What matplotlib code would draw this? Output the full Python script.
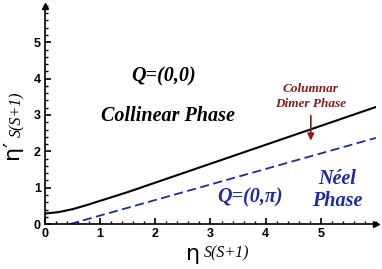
import matplotlib
matplotlib.use("Agg")
import matplotlib.pyplot as plt
from matplotlib.ticker import MultipleLocator

# ── Data ──────────────────────────────────────────────────────────────────
# upper boundary (collinear / columnar dimer), solid black
x_upper = [0.0, 0.25, 0.5, 0.75, 1.0, 1.5, 2.0, 3.0, 4.0, 5.0, 6.0]
y_upper = [0.29, 0.33, 0.41, 0.52, 0.64, 0.88, 1.14, 1.66, 2.18, 2.70, 3.22]
# lower boundary (columnar dimer / Neel), dashed blue
x_lower = [0.45, 6.0]
y_lower = [0.0, 2.37]

INK = "black"
BLUE = "#1c2aa6"
RED = "#8b1a1a"
SERIF = "Liberation Serif"

fig = plt.figure(figsize=(3.82, 2.69), dpi=100)
ax = fig.add_axes([0.118, 0.167, 0.866, 0.811])

ax.plot(x_upper, y_upper, color=INK, lw=1.5)
ax.plot(x_lower, y_lower, color=BLUE, lw=1.3, ls=(0, (5, 2.5)))

ax.set_xlim(0, 6)
ax.set_ylim(0, 6)

# axes: only left/bottom, with arrowheads
for s in ("top", "right"):
    ax.spines[s].set_visible(False)
for s in ("left", "bottom"):
    ax.spines[s].set_linewidth(1.2)
ax.plot(1, 0, ">", color="k", ms=5, transform=ax.transAxes, clip_on=False)
ax.plot(0, 1, "^", color="k", ms=5, transform=ax.transAxes, clip_on=False)

ax.set_xticks([0, 1, 2, 3, 4, 5])
ax.set_yticks([0, 1, 2, 3, 4, 5])
ax.xaxis.set_minor_locator(MultipleLocator(0.2))
ax.yaxis.set_minor_locator(MultipleLocator(0.2))
ax.tick_params(which="major", direction="in", length=4, width=1.2,
               labelsize=9, pad=3)
ax.tick_params(which="minor", direction="in", length=2.5, width=1.0)
for lab in ax.get_xticklabels() + ax.get_yticklabels():
    lab.set_fontweight("bold")
    lab.set_family("Liberation Sans")

# axis labels: greek eta in sans, S(S+1) in italic serif
ax.text(0.47, -0.135, "η", transform=ax.transAxes, fontsize=16,
        ha="right", va="center")
ax.text(0.48, -0.135, "S(S+1)", transform=ax.transAxes, fontsize=11.5,
        family=SERIF, style="italic", ha="left", va="center")
ax.text(-0.1, 0.385, "η′", transform=ax.transAxes, fontsize=16,
        rotation=90, ha="center", va="top")
ax.text(-0.085, 0.40, "S(S+1)", transform=ax.transAxes, fontsize=11.5,
        family=SERIF, style="italic", rotation=90, ha="center", va="bottom")

# region annotations
ax.text(2.15, 4.06, "Q=(0,0)", fontsize=14.5, family=SERIF, weight="bold",
        style="italic", ha="center", va="center", color=INK)
ax.text(2.22, 2.98, "Collinear Phase", fontsize=14.5, family=SERIF,
        weight="bold", style="italic", ha="center", va="center", color=INK)
ax.text(3.72, 0.72, "Q=(0,π)", fontsize=14.5, family=SERIF, weight="bold",
        style="italic", ha="center", va="center", color=BLUE)
ax.text(5.3, 0.93, "Néel\nPhase", fontsize=14.5, family=SERIF, weight="bold",
        style="italic", ha="center", va="center", color=BLUE, linespacing=1.15)
ax.text(4.82, 3.5, "Columnar\nDimer Phase", fontsize=9.5, family=SERIF,
        weight="bold", style="italic", ha="center", va="center", color=RED,
        linespacing=1.3)
ax.annotate("", xy=(4.82, 2.22), xytext=(4.82, 3.06),
            arrowprops=dict(arrowstyle="-|>,head_width=0.2,head_length=0.4",
                            color=RED, lw=1.2))

fig.savefig("out.png", dpi=100, facecolor="white")
